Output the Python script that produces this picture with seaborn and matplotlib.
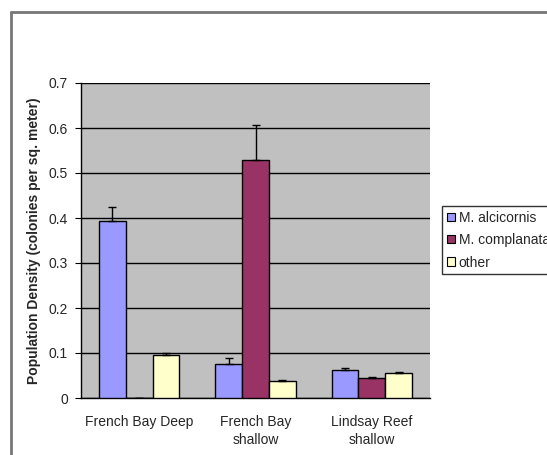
import numpy as np
import pandas as pd
import matplotlib
matplotlib.use("Agg")
import matplotlib.pyplot as plt
from matplotlib.lines import Line2D
import seaborn as sns

# ── data ──────────────────────────────────────────────
sites = ["French Bay Deep", "French Bay\nshallow", "Lindsay Reef\nshallow"]
species = ["M. alcicornis", "M. complanata", "other"]
alcicornis = [0.394, 0.076, 0.062]
complanata = [0.0, 0.528, 0.045]
other = [0.096, 0.038, 0.055]
err_alcicornis = [0.030, 0.014, 0.005]
err_complanata = [0.0, 0.078, 0.002]
err_other = [0.003, 0.002, 0.002]

df = pd.DataFrame({
    "site": sites * 3,
    "species": np.repeat(species, 3),
    "density": alcicornis + complanata + other,
    "err": err_alcicornis + err_complanata + err_other,
})

colors = ["#9999FF", "#993366", "#FFFFCC"]

sns.set_style("white")
plt.rcParams["font.family"] = ["Liberation Sans", "DejaVu Sans"]

fig = plt.figure(figsize=(5.47, 4.55), dpi=100)
ax = fig.add_axes([81 / 547, 1 - 398 / 455, (430 - 81) / 547, (398 - 83) / 455])
ax.set_facecolor("#C0C0C0")

sns.barplot(data=df, x="site", y="density", hue="species", order=sites,
            hue_order=species, palette=colors, saturation=1, width=0.69,
            errorbar=None, edgecolor="black", linewidth=1, ax=ax, zorder=3)

# upper error bars only
for patch_group, sp in zip(ax.containers, species):
    sub = df[df["species"] == sp].set_index("site").loc[sites]
    xs = [p.get_x() + p.get_width() / 2 for p in patch_group]
    ax.errorbar(xs, sub["density"], yerr=[np.zeros(3), sub["err"]],
                fmt="none", ecolor="black", elinewidth=1, capsize=3,
                capthick=1, zorder=4)

ax.set_ylim(0, 0.7)
ax.set_xlim(-0.5, 2.5)
ax.set_yticks(np.arange(0, 0.71, 0.1))
ax.set_yticklabels(["0", "0.1", "0.2", "0.3", "0.4", "0.5", "0.6", "0.7"])
ax.yaxis.grid(True, color="black", linewidth=1)
ax.set_axisbelow(True)
ax.set_xticks([0.5, 1.5], minor=True)
ax.tick_params(axis="x", which="major", length=0, pad=12, labelsize=10)
ax.tick_params(axis="x", which="minor", length=4, color="black", direction="out")
ax.tick_params(axis="y", length=4.5, color="black", direction="out",
               labelsize=10, pad=5, left=True)
for lbl in ax.get_xticklabels():
    lbl.set_linespacing(1.35)
for s in ["top", "right"]:
    ax.spines[s].set_visible(False)
for s in ["left", "bottom"]:
    ax.spines[s].set_color("black")
    ax.spines[s].set_linewidth(1)

ax.set_xlabel("")
ax.set_ylabel("Population Density (colonies per sq. meter)", fontsize=10,
              fontweight="bold")
ax.yaxis.set_label_coords((41 - 81) / 349, 0.5)

ax.get_legend().remove()
handles = [plt.Rectangle((0, 0), 1, 1, facecolor=c, edgecolor="black", linewidth=0.8)
           for c in colors]
leg = fig.legend(handles, species, loc="upper left",
                 bbox_to_anchor=(442 / 547, 1 - 206 / 455),
                 frameon=True, fancybox=False, edgecolor="black",
                 fontsize=10, handlelength=0.55, handleheight=0.55,
                 handletextpad=0.3, borderpad=0.35, labelspacing=0.6,
                 borderaxespad=0)
leg.get_frame().set_linewidth(1)

# outer frame of the chart area
fig.add_artist(Line2D([11 / 547, 1.0], [1 - 12 / 455, 1 - 12 / 455],
                      color="#777777", linewidth=2))
fig.add_artist(Line2D([11 / 547, 11 / 547], [1 - 12 / 455, 0],
                      color="#777777", linewidth=2))

fig.savefig("out.png", dpi=100)
